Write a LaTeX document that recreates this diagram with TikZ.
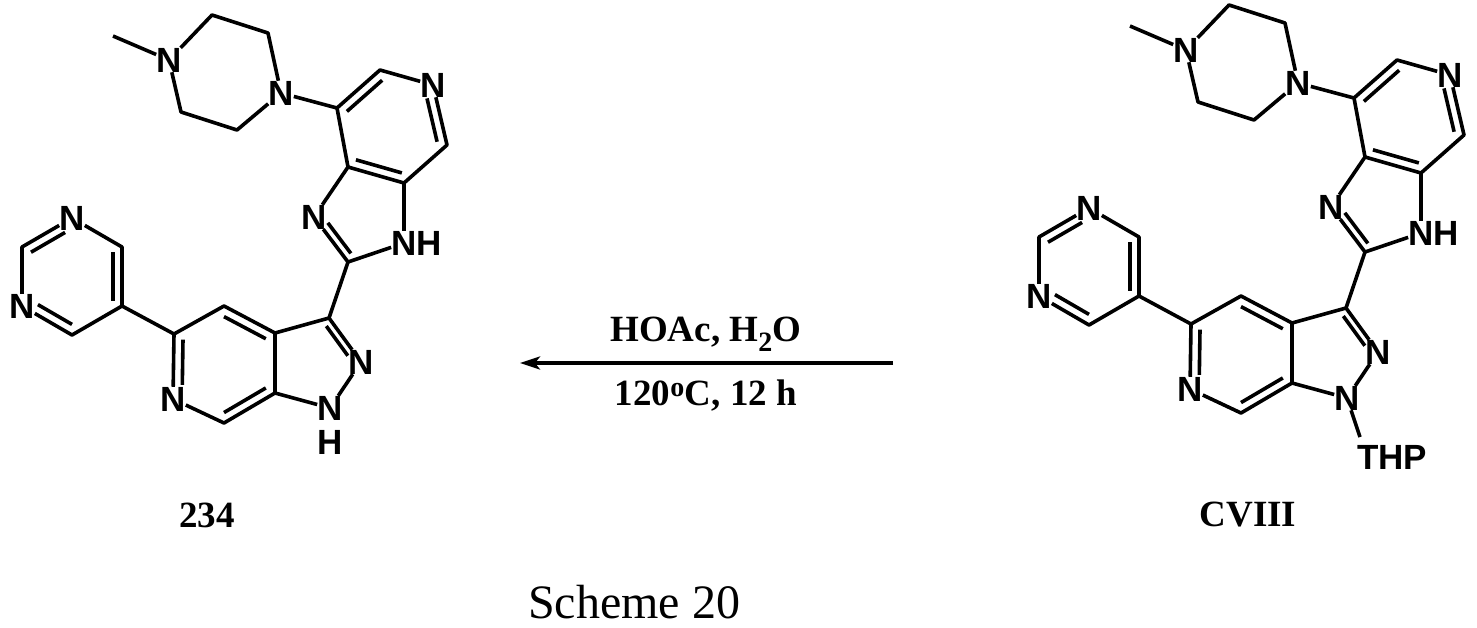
\documentclass[tikz,border=0pt]{standalone}
\usepackage{fontspec}
\setmainfont{Liberation Serif}
\setsansfont{Liberation Sans}
\usetikzlibrary{calc,arrows.meta}
\tikzset{
 atom/.style={font=\sffamily\bfseries\fontsize{35}{35}\selectfont,inner sep=0pt},
 bond/.style={line width=3.6pt},
 txt/.style={font=\bfseries\fontsize{37}{37}\selectfont,inner sep=0pt},
}
\newcommand\dbl[4][]{\draw[bond,#1] ($(#2)!0.18!(#4)$) -- ($(#3)!0.18!(#4)$);}
\newcommand\molcore{%
 \coordinate (me) at (113,36);
 \node[atom] (np1) at (169,60) {N};
 \coordinate (c1) at (212,15); \coordinate (c2) at (268,33);
 \node[atom] (np2) at (281,93) {N};
 \coordinate (c3) at (237,130); \coordinate (c4) at (181,112);
 \coordinate (a1) at (337,108); \coordinate (a2) at (380,70);
 \node[atom] (na) at (433,85) {N};
 \coordinate (a4) at (447,145); \coordinate (a5) at (404,183); \coordinate (a6) at (348,167);
 \coordinate (ca) at (392,127);
 \node[atom] (ni) at (314,217) {N};
 \coordinate (i2) at (348,262);
 \node[atom] (nh) at (404,243) {N\rlap{H}};
 \coordinate (ci) at (364,214);
 \coordinate (p3) at (329,318);
 \node[atom] (pn2) at (361,362) {N};
 \node[atom] (pn1) at (330,408) {N};
 \coordinate (p7a) at (275,393); \coordinate (p3a) at (275,333);
 \coordinate (cp) at (314,363);
 \coordinate (b4) at (224,306); \coordinate (b5) at (174,334);
 \node[atom] (nb) at (173,399) {N};
 \coordinate (b7) at (224,423);
 \coordinate (cb) at (224,365);
 \coordinate (m1) at (122,306); \coordinate (m2) at (122,247);
 \node[atom] (nm1) at (72,218) {N};
 \coordinate (m4) at (22,247);
 \node[atom] (nm2) at (22,306) {N};
 \coordinate (m6) at (72,335);
 \coordinate (cm) at (72,276);
 \draw[bond,line join=round] (me) -- (np1) -- (c1) -- (c2) -- (np2) -- (c3) -- (c4) -- (np1);
 \draw[bond,line join=round] (np2) -- (a1) -- (a2) -- (na) -- (a4) -- (a5) -- (a6) -- (a1);
 \draw[bond,line join=round] (a6) -- (ni) -- (i2) -- (nh) -- (a5);
 \draw[bond,line join=round] (i2) -- (p3) -- (pn2) -- (pn1) -- (p7a) -- (p3a) -- (p3);
 \draw[bond,line join=round] (p3a) -- (b4) -- (b5) -- (nb) -- (b7) -- (p7a);
 \draw[bond,line join=round] (b5) -- (m1) -- (m2) -- (nm1) -- (m4) -- (nm2) -- (m6) -- (m1);
 \dbl{a1}{a2}{ca} \dbl[shorten <=6pt]{na}{a4}{ca} \dbl{a5}{a6}{ca}
 \dbl[shorten <=8pt]{ni}{i2}{ci}
 \dbl[shorten >=8pt]{p3}{pn2}{cp}
 \dbl{b4}{p3a}{cb} \dbl[shorten >=8pt]{b5}{nb}{cb} \dbl{p7a}{b7}{cb}
 \dbl[shorten <=8pt]{nm1}{m4}{cm} \dbl{m1}{m2}{cm} \dbl[shorten <=8pt]{nm2}{m6}{cm}
}
\begin{document}
\begin{tikzpicture}[x=1pt,y=-1pt]
\useasboundingbox (0,0) rectangle (1477,627);
\begin{scope}
 \molcore
 \node[atom] (h) at (330,442) {H};
\end{scope}
\begin{scope}[shift={(1017,-10)}]
 \molcore
 \node[atom] (thp) at (375,467) {THP};
 \coordinate (thpend) at (343,447);
 \draw[bond] (pn1) -- (thpend);
\end{scope}
\coordinate (ar1) at (893,363);
\coordinate (ar2) at (520,363);
\draw[line width=3.6pt,-{Stealth[length=20pt,width=13pt,inset=5pt]}] (ar1) -- (ar2);
\node[txt] (t1) at (706,334) {HOAc, H\textsubscript{\fontsize{28}{28}\selectfont 2}O};
\node[txt] (t2) at (706,396) {120\textsuperscript{\fontsize{28}{28}\selectfont o}C, 12 h};
\node[txt] (l1) at (207,515) {234};
\node[txt] (l2) at (1248,515) {CVIII};
\node[font=\fontsize{48}{48}\selectfont,inner sep=0pt] (sc) at (634,602) {Scheme 20};
\end{tikzpicture}
\end{document}
